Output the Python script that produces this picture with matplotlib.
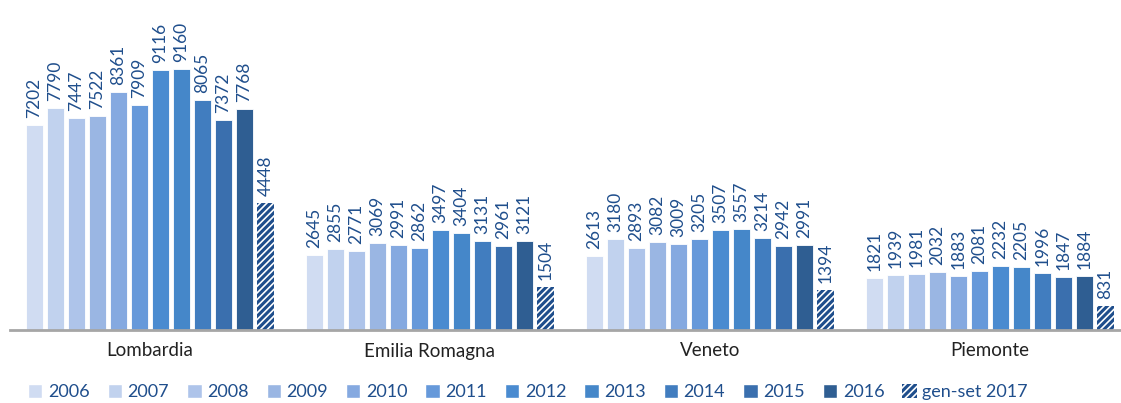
import numpy as np
import matplotlib.pyplot as plt
from matplotlib.patches import Patch

plt.rcParams['font.family'] = ['Lato', 'DejaVu Sans']
plt.rcParams['hatch.linewidth'] = 2.2

regions = ['Lombardia', 'Emilia Romagna', 'Veneto', 'Piemonte']
series = ['2006', '2007', '2008', '2009', '2010', '2011', '2012',
          '2013', '2014', '2015', '2016', 'gen-set 2017']
lombardia = [7202, 7790, 7447, 7522, 8361, 7909, 9116, 9160, 8065, 7372, 7768, 4448]
emilia = [2645, 2855, 2771, 3069, 2991, 2862, 3497, 3404, 3131, 2961, 3121, 1504]
veneto = [2613, 3180, 2893, 3082, 3009, 3205, 3507, 3557, 3214, 2942, 2991, 1394]
piemonte = [1821, 1939, 1981, 2032, 1883, 2081, 2232, 2205, 1996, 1847, 1884, 831]

colors = ['#D0DCF2', '#C1D2EE', '#AEC4EA', '#9AB6E3', '#85A9E0', '#6699DA',
          '#4A8BD0', '#4587C9', '#417DBF', '#3A6FAE', '#2F5E92', 'white']
txt = '#1F4E8C'

data = np.array([lombardia, emilia, veneto, piemonte])

W, H = 1121, 403
fig = plt.figure(figsize=(W / 100, H / 100), dpi=100)
ax = fig.add_axes([10 / W, (H - 330) / H, 1111 / W, 330 / H])

x = np.arange(len(regions))
pitch = 0.075
bw = 0.058
for j, name in enumerate(series):
    xs = x + (j - 5.5) * pitch
    vals = data[:, j]
    if j == 11:
        bars = ax.bar(xs, vals, bw, color='white', edgecolor=txt, hatch='/////',
                      linewidth=0)
    else:
        bars = ax.bar(xs, vals, bw, color=colors[j], edgecolor='white', linewidth=0.6)
    for b, v in zip(bars, vals):
        ax.annotate(str(v), (b.get_x() + b.get_width() / 2, v), xytext=(0, 5),
                    textcoords='offset points', rotation=90, ha='center', va='bottom',
                    fontsize=12.5, color=txt)

ax.set_xlim(-0.5, -0.5 + 1111 / 280)
ax.set_ylim(0, 330 / 0.0285)
for s in ['top', 'right', 'left']:
    ax.spines[s].set_visible(False)
ax.spines['bottom'].set_color('#A6A6A6')
ax.spines['bottom'].set_linewidth(2)
ax.set_yticks([])
ax.set_xticks(x)
ax.set_xticklabels(regions, fontsize=13.5, color='#222222')
ax.tick_params(axis='x', length=0, pad=9)

handles = [Patch(facecolor=c, edgecolor='white') for c in colors[:11]]
handles.append(Patch(facecolor='white', edgecolor=txt, hatch='/////', linewidth=0))
leg = fig.legend(handles, series, loc='center left', bbox_to_anchor=(28 / W, 1 - 392 / H),
                 ncol=12, frameon=False, fontsize=13, handlelength=0.8, handleheight=0.8,
                 handletextpad=0.3, columnspacing=1.0, borderaxespad=0, borderpad=0)
for t in leg.get_texts():
    t.set_color(txt)

fig.savefig('out.png', dpi=100)
